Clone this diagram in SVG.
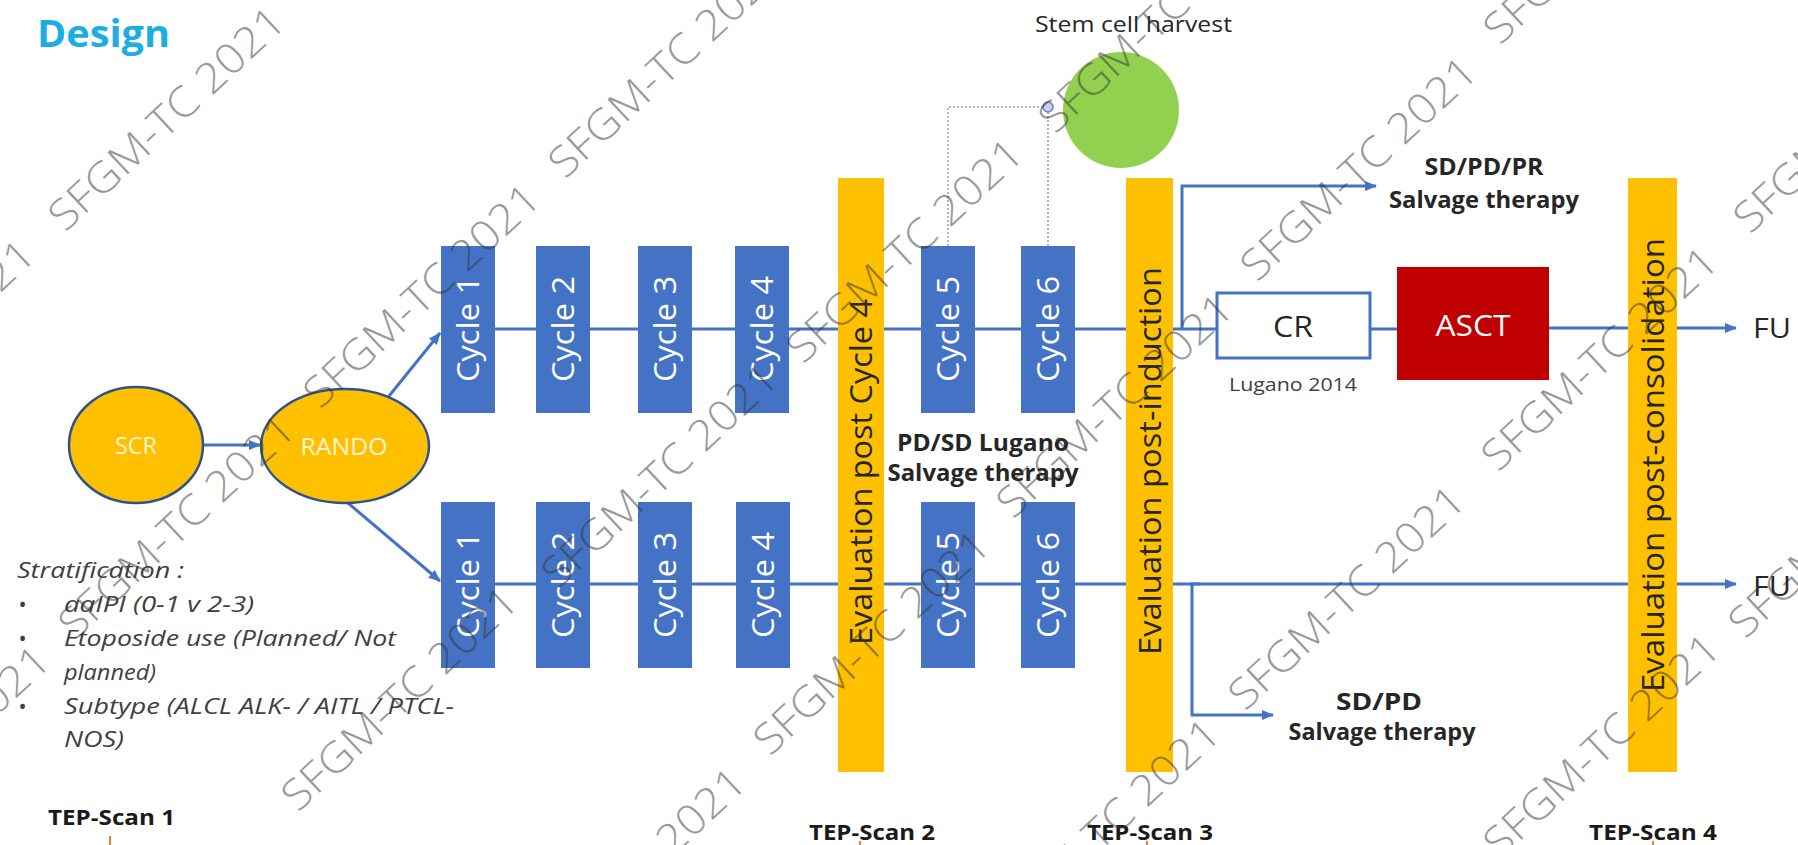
<svg xmlns="http://www.w3.org/2000/svg" width="1798" height="845" viewBox="0 0 1798 845">
<style>
text{font-family:"Open Sans","Noto Sans","Liberation Sans",sans-serif}
.cyc{fill:#4472C4}
.ct{fill:#fff;font-size:31px}
.bar{fill:#FFC000}
.bt{fill:#262626;font-size:31px}
.ln{stroke:#4472C4;stroke-width:3;fill:none}
.arr{marker-end:url(#ah)}
.lbl{fill:#262626;font-size:23px;font-weight:bold}
.str{fill:#404040;font-size:22px;font-style:italic}
.tep{fill:#1a1a1a;font-size:22px;font-weight:bold}
.ov{fill:#FFC000;stroke:#2F528F;stroke-width:2.5}
.ovt{fill:#FFF5D6;font-size:24px}
.wm{fill:#333;fill-opacity:0.5;font-size:42px;font-weight:300;font-family:"Open Sans","Liberation Sans",sans-serif}
.tick{stroke:#ED7D31;stroke-width:2}
</style>
<defs>
<marker id="ah" viewBox="0 0 12 10" refX="11" refY="5" markerWidth="4.2" markerHeight="3.4" orient="auto" markerUnits="strokeWidth">
<path d="M0,0 L12,5 L0,10 z" fill="#4472C4"/>
</marker>
</defs>
<rect width="1798" height="845" fill="#fff"/>

<g id="title"><text x="37" y="47" fill="#1CADE4" font-size="38" font-weight="bold" textLength="133" lengthAdjust="spacingAndGlyphs">Design</text></g>

<g id="connectors">
<line class="ln arr" x1="203" y1="445" x2="260" y2="445"/>
<line class="ln arr" x1="385" y1="401" x2="440" y2="333"/>
<line class="ln arr" x1="348" y1="503" x2="440" y2="581"/>
<line class="ln" x1="495" y1="329" x2="1217" y2="329"/>
<line class="ln" x1="495" y1="584" x2="1200" y2="584"/>
<line class="ln arr" x1="1190" y1="584" x2="1736" y2="584"/>
<polyline class="ln arr" points="1182,329 1182,186 1376,186"/>
<polyline class="ln arr" points="1192,584 1192,715 1273,715"/>
<line class="ln" x1="1370" y1="329" x2="1397" y2="329"/>
<line class="ln arr" x1="1549" y1="328" x2="1736" y2="328"/>
<path d="M948,246 V107 H1048 V246" fill="none" stroke="#8EA0CF" stroke-width="1.5" stroke-dasharray="2 2"/>
<circle cx="1048" cy="107" r="5" fill="#C9D0E8" stroke="#6B7DB8" stroke-width="1.5"/>
</g>

<g id="scr"><ellipse class="ov" cx="136" cy="445" rx="67" ry="58"/><text class="ovt" x="136" y="445" dy=".36em" text-anchor="middle" textLength="42" lengthAdjust="spacingAndGlyphs">SCR</text></g>
<g id="rando"><ellipse class="ov" cx="345" cy="446" rx="84" ry="57"/><text class="ovt" x="344" y="446" dy=".36em" text-anchor="middle" textLength="87" lengthAdjust="spacingAndGlyphs">RANDO</text></g>

<g id="arm-a-cycle1"><rect class="cyc" x="441" y="246" width="54" height="167"/><text class="ct" x="468" y="329" dy=".36em" transform="rotate(-90 468 329)" text-anchor="middle" textLength="106" lengthAdjust="spacingAndGlyphs">Cycle 1</text></g>
<g id="arm-a-cycle2"><rect class="cyc" x="536" y="246" width="54" height="167"/><text class="ct" x="563" y="329" dy=".36em" transform="rotate(-90 563 329)" text-anchor="middle" textLength="106" lengthAdjust="spacingAndGlyphs">Cycle 2</text></g>
<g id="arm-a-cycle3"><rect class="cyc" x="638" y="246" width="54" height="167"/><text class="ct" x="665" y="329" dy=".36em" transform="rotate(-90 665 329)" text-anchor="middle" textLength="106" lengthAdjust="spacingAndGlyphs">Cycle 3</text></g>
<g id="arm-a-cycle4"><rect class="cyc" x="735" y="246" width="54" height="167"/><text class="ct" x="762" y="329" dy=".36em" transform="rotate(-90 762 329)" text-anchor="middle" textLength="106" lengthAdjust="spacingAndGlyphs">Cycle 4</text></g>
<g id="arm-a-cycle5"><rect class="cyc" x="921" y="246" width="54" height="167"/><text class="ct" x="948" y="329" dy=".36em" transform="rotate(-90 948 329)" text-anchor="middle" textLength="106" lengthAdjust="spacingAndGlyphs">Cycle 5</text></g>
<g id="arm-a-cycle6"><rect class="cyc" x="1021" y="246" width="54" height="167"/><text class="ct" x="1048" y="329" dy=".36em" transform="rotate(-90 1048 329)" text-anchor="middle" textLength="106" lengthAdjust="spacingAndGlyphs">Cycle 6</text></g>

<g id="arm-b-cycle1"><rect class="cyc" x="441" y="502" width="54" height="166"/><text class="ct" x="468" y="585" dy=".36em" transform="rotate(-90 468 585)" text-anchor="middle" textLength="106" lengthAdjust="spacingAndGlyphs">Cycle 1</text></g>
<g id="arm-b-cycle2"><rect class="cyc" x="536" y="502" width="54" height="166"/><text class="ct" x="563" y="585" dy=".36em" transform="rotate(-90 563 585)" text-anchor="middle" textLength="106" lengthAdjust="spacingAndGlyphs">Cycle 2</text></g>
<g id="arm-b-cycle3"><rect class="cyc" x="638" y="502" width="54" height="166"/><text class="ct" x="665" y="585" dy=".36em" transform="rotate(-90 665 585)" text-anchor="middle" textLength="106" lengthAdjust="spacingAndGlyphs">Cycle 3</text></g>
<g id="arm-b-cycle4"><rect class="cyc" x="736" y="502" width="54" height="166"/><text class="ct" x="763" y="585" dy=".36em" transform="rotate(-90 763 585)" text-anchor="middle" textLength="106" lengthAdjust="spacingAndGlyphs">Cycle 4</text></g>
<g id="arm-b-cycle5"><rect class="cyc" x="921" y="502" width="54" height="166"/><text class="ct" x="948" y="585" dy=".36em" transform="rotate(-90 948 585)" text-anchor="middle" textLength="106" lengthAdjust="spacingAndGlyphs">Cycle 5</text></g>
<g id="arm-b-cycle6"><rect class="cyc" x="1021" y="502" width="54" height="166"/><text class="ct" x="1048" y="585" dy=".36em" transform="rotate(-90 1048 585)" text-anchor="middle" textLength="106" lengthAdjust="spacingAndGlyphs">Cycle 6</text></g>

<g id="eval-c4"><rect class="bar" x="838" y="178" width="46" height="594"/><text class="bt" x="861" y="472" dy=".36em" transform="rotate(-90 861 472)" text-anchor="middle" textLength="346" lengthAdjust="spacingAndGlyphs">Evaluation post Cycle 4</text></g>
<g id="eval-induction"><rect class="bar" x="1126" y="178" width="47" height="594"/><text class="bt" x="1149.5" y="461" dy=".36em" transform="rotate(-90 1149.5 461)" text-anchor="middle" textLength="388" lengthAdjust="spacingAndGlyphs">Evaluation post-induction</text></g>
<g id="eval-consolidation"><rect class="bar" x="1628" y="178" width="49" height="594"/><text class="bt" x="1652.5" y="465" dy=".36em" transform="rotate(-90 1652.5 465)" text-anchor="middle" textLength="454" lengthAdjust="spacingAndGlyphs">Evaluation post-consolidation</text></g>

<g id="stem-cell"><circle cx="1121" cy="110" r="58" fill="#92D050"/><text x="1035" y="32" fill="#262626" font-size="22" textLength="197" lengthAdjust="spacingAndGlyphs">Stem cell harvest</text></g>

<g id="cr"><rect x="1217" y="293" width="153" height="65" fill="#fff" stroke="#4472C4" stroke-width="3"/><text x="1293" y="327" dy=".36em" fill="#262626" font-size="29" text-anchor="middle" textLength="40" lengthAdjust="spacingAndGlyphs">CR</text><text x="1293" y="391" fill="#404040" font-size="18" text-anchor="middle" textLength="128" lengthAdjust="spacingAndGlyphs">Lugano 2014</text></g>
<g id="asct"><rect x="1397" y="267" width="152" height="113" fill="#C00000"/><text x="1473" y="326" dy=".36em" fill="#fff" font-size="29" text-anchor="middle" textLength="75" lengthAdjust="spacingAndGlyphs">ASCT</text></g>

<g id="fu-a"><text x="1753" y="338" fill="#262626" font-size="28" textLength="38" lengthAdjust="spacingAndGlyphs">FU</text></g>
<g id="fu-b"><text x="1753" y="596" fill="#262626" font-size="28" textLength="38" lengthAdjust="spacingAndGlyphs">FU</text></g>

<g id="salvage-c4"><text class="lbl" x="983" y="451" text-anchor="middle" textLength="172" lengthAdjust="spacingAndGlyphs">PD/SD Lugano</text><text class="lbl" x="983" y="481" text-anchor="middle" textLength="191" lengthAdjust="spacingAndGlyphs">Salvage therapy</text></g>
<g id="salvage-a"><text class="lbl" x="1484" y="175" text-anchor="middle" textLength="119" lengthAdjust="spacingAndGlyphs">SD/PD/PR</text><text class="lbl" x="1484" y="208" text-anchor="middle" textLength="190" lengthAdjust="spacingAndGlyphs">Salvage therapy</text></g>
<g id="salvage-b"><text class="lbl" x="1379" y="710" text-anchor="middle" textLength="86" lengthAdjust="spacingAndGlyphs">SD/PD</text><text class="lbl" x="1382" y="740" text-anchor="middle" textLength="187" lengthAdjust="spacingAndGlyphs">Salvage therapy</text></g>

<g id="stratification">
<text class="str" x="17" y="578" textLength="167" lengthAdjust="spacingAndGlyphs">Stratification :</text>
<text class="str" x="18" y="612">•</text>
<text class="str" x="64" y="612" textLength="190" lengthAdjust="spacingAndGlyphs">aaIPI (0-1 v 2-3)</text>
<text class="str" x="18" y="646">•</text>
<text class="str" x="64" y="646" textLength="332" lengthAdjust="spacingAndGlyphs">Etoposide use (Planned/ Not</text>
<text class="str" x="64" y="680" textLength="92" lengthAdjust="spacingAndGlyphs">planned)</text>
<text class="str" x="18" y="714">•</text>
<text class="str" x="64" y="714" textLength="390" lengthAdjust="spacingAndGlyphs">Subtype (ALCL ALK- / AITL / PTCL-</text>
<text class="str" x="64" y="747" textLength="60" lengthAdjust="spacingAndGlyphs">NOS)</text>
</g>

<g id="tep-scans">
<text class="tep" x="48" y="825" textLength="127" lengthAdjust="spacingAndGlyphs">TEP-Scan 1</text>
<text class="tep" x="809" y="840" textLength="126" lengthAdjust="spacingAndGlyphs">TEP-Scan 2</text>
<text class="tep" x="1087" y="840" textLength="126" lengthAdjust="spacingAndGlyphs">TEP-Scan 3</text>
<text class="tep" x="1589" y="840" textLength="128" lengthAdjust="spacingAndGlyphs">TEP-Scan 4</text>
<line class="tick" x1="110" y1="836" x2="110" y2="845"/>
<line class="tick" x1="860" y1="841" x2="860" y2="845"/>
<line class="tick" x1="1147" y1="841" x2="1147" y2="845"/>
<line class="tick" x1="1653" y1="841" x2="1653" y2="845"/>
</g>

<g id="watermark" class="wm">
<text transform="translate(-185 466) rotate(-43)" textLength="305" lengthAdjust="spacingAndGlyphs">SFGM-TC 2021</text>
<text transform="translate(65 233) rotate(-43)" textLength="305" lengthAdjust="spacingAndGlyphs">SFGM-TC 2021</text>
<text transform="translate(-170 872) rotate(-43)" textLength="305" lengthAdjust="spacingAndGlyphs">SFGM-TC 2021</text>
<text transform="translate(75 641) rotate(-43)" textLength="305" lengthAdjust="spacingAndGlyphs">SFGM-TC 2021</text>
<text transform="translate(320 410) rotate(-43)" textLength="305" lengthAdjust="spacingAndGlyphs">SFGM-TC 2021</text>
<text transform="translate(565 180) rotate(-43)" textLength="305" lengthAdjust="spacingAndGlyphs">SFGM-TC 2021</text>
<text transform="translate(298 813) rotate(-43)" textLength="305" lengthAdjust="spacingAndGlyphs">SFGM-TC 2021</text>
<text transform="translate(558 590) rotate(-43)" textLength="305" lengthAdjust="spacingAndGlyphs">SFGM-TC 2021</text>
<text transform="translate(803 365) rotate(-43)" textLength="305" lengthAdjust="spacingAndGlyphs">SFGM-TC 2021</text>
<text transform="translate(1055 135) rotate(-43)" textLength="305" lengthAdjust="spacingAndGlyphs">SFGM-TC 2021</text>
<text transform="translate(526 994) rotate(-43)" textLength="305" lengthAdjust="spacingAndGlyphs">SFGM-TC 2021</text>
<text transform="translate(770 757) rotate(-43)" textLength="305" lengthAdjust="spacingAndGlyphs">SFGM-TC 2021</text>
<text transform="translate(1013 520) rotate(-43)" textLength="305" lengthAdjust="spacingAndGlyphs">SFGM-TC 2021</text>
<text transform="translate(1257 283) rotate(-43)" textLength="305" lengthAdjust="spacingAndGlyphs">SFGM-TC 2021</text>
<text transform="translate(1500 46) rotate(-43)" textLength="305" lengthAdjust="spacingAndGlyphs">SFGM-TC 2021</text>
<text transform="translate(1000 945) rotate(-43)" textLength="305" lengthAdjust="spacingAndGlyphs">SFGM-TC 2021</text>
<text transform="translate(1245 712) rotate(-43)" textLength="305" lengthAdjust="spacingAndGlyphs">SFGM-TC 2021</text>
<text transform="translate(1498 473) rotate(-43)" textLength="305" lengthAdjust="spacingAndGlyphs">SFGM-TC 2021</text>
<text transform="translate(1750 235) rotate(-43)" textLength="305" lengthAdjust="spacingAndGlyphs">SFGM-TC 2021</text>
<text transform="translate(1500 860) rotate(-43)" textLength="305" lengthAdjust="spacingAndGlyphs">SFGM-TC 2021</text>
<text transform="translate(1745 640) rotate(-43)" textLength="305" lengthAdjust="spacingAndGlyphs">SFGM-TC 2021</text>
</g>
</svg>
